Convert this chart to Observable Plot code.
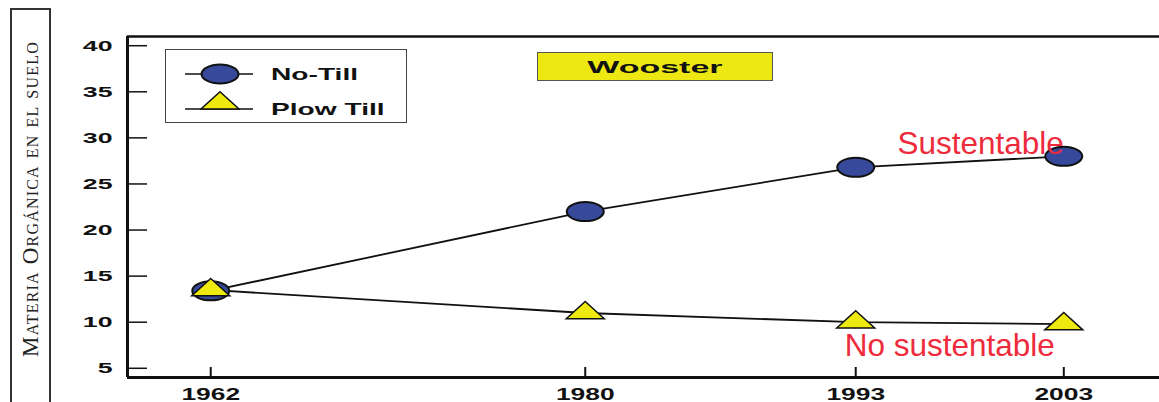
<!DOCTYPE html>
<html><head><meta charset="utf-8">
<script src="https://cdn.jsdelivr.net/npm/d3@7"></script>
<script src="https://cdn.jsdelivr.net/npm/@observablehq/plot@0.6"></script>
<style>
html,body{margin:0;padding:0;background:#fff;}
#wrap{position:relative;width:1159px;height:402px;overflow:hidden;font-family:"Liberation Sans",Arial,sans-serif;color:#111;}
#chart{position:absolute;left:0;top:0;}
#ylab{position:absolute;left:10px;top:8px;width:37px;height:420px;border:2px solid #333;}
#ylab span{position:absolute;left:50%;top:189px;transform:translate(-50%,-50%) rotate(-90deg);white-space:nowrap;font-family:"Liberation Serif","Times New Roman",serif;font-variant:small-caps;font-size:23px;letter-spacing:1.2px;color:#222;}
#legend{position:absolute;left:165px;top:49px;width:242px;height:74px;box-sizing:border-box;border:1px solid #444;background:#fff;}
#legend svg{position:absolute;left:-1px;top:-1px;}
#title{position:absolute;left:537px;top:52px;width:236px;height:29px;box-sizing:border-box;border:1.5px solid #555;background:#EDE812;text-align:center;}
#title span{display:inline-block;font-weight:bold;font-size:17px;line-height:29px;transform:scaleX(2);transform-origin:center;color:#111;}
</style></head>
<body>
<div id="wrap">
  <div id="chart"></div>
  <div id="ylab"><span></span></div>
  <div id="legend"></div>
  <div id="title"><span></span></div>
</div>
<script>
// ---- data ----
const years = [1962, 1980, 1993, 2003];
const noTill = [13.4, 22.0, 26.8, 28.0];
const plowTill = [13.5, 11.0, 10.0, 9.8];
const yTicks = [5, 10, 15, 20, 25, 30, 35, 40];
const seriesNames = ["No-Till", "Plow Till"];
const annotations = ["Sustentable", "No sustentable"];
const titleText = "Wooster";
const yLabel = "Materia Orgánica en el suelo";

const blue = "#37499B", yellow = "#EEEA10", red = "#EE2B3B";

const nt = years.map((x, i) => ({year: x, value: noTill[i], series: seriesNames[0]}));
const pt = years.map((x, i) => ({year: x, value: plowTill[i], series: seriesNames[1]}));

const ellipse = {draw(ctx, size) {
  const r = Math.sqrt(size / Math.PI), rx = 1.85 * r, ry = 0.95 * r, k = 0.5523;
  ctx.moveTo(rx, 0);
  ctx.bezierCurveTo(rx, k * ry, k * rx, ry, 0, ry);
  ctx.bezierCurveTo(-k * rx, ry, -rx, k * ry, -rx, 0);
  ctx.bezierCurveTo(-rx, -k * ry, -k * rx, -ry, 0, -ry);
  ctx.bezierCurveTo(k * rx, -ry, rx, -k * ry, rx, 0);
  ctx.closePath();
}};
const tri = {draw(ctx, size) {
  const r = Math.sqrt(size / Math.PI);
  ctx.moveTo(0, -1.15 * r);
  ctx.lineTo(1.9 * r, 0.58 * r);
  ctx.lineTo(-1.9 * r, 0.58 * r);
  ctx.closePath();
}};

const plot = Plot.plot({
  width: 1159, height: 402,
  marginLeft: 127, marginRight: 0, marginTop: 36, marginBottom: 25,
  style: {fontFamily: "Liberation Sans, Arial, sans-serif", background: "transparent", color: "#111", overflow: "visible"},
  x: {domain: [1958, 2007.6]},
  y: {domain: [4, 41]},
  marks: [
    Plot.ruleY([41], {stroke: "#111", strokeWidth: 2.5}),
    Plot.axisY({ticks: yTicks, tickSize: -20, tickPadding: 35, label: null, strokeWidth: 1.5, fontSize: 15, fontWeight: "bold"}),
    Plot.axisX({ticks: years, tickSize: -10, tickPadding: 21, tickFormat: d => String(d), label: null, strokeWidth: 2, fontSize: 16, fontWeight: "bold"}),
    Plot.ruleX([1958], {stroke: "#111", strokeWidth: 3}),
    Plot.ruleY([4], {stroke: "#111", strokeWidth: 3}),
    Plot.line(nt, {x: "year", y: "value", stroke: "#111", strokeWidth: 1.8}),
    Plot.line(pt, {x: "year", y: "value", stroke: "#111", strokeWidth: 1.8}),
    Plot.dot(nt, {x: "year", y: "value", symbol: ellipse, r: 10, fill: blue, stroke: "#111", strokeWidth: 2}),
    Plot.dot(pt, {x: "year", y: "value", symbol: tri, r: 10, fill: yellow, stroke: "#111", strokeWidth: 1.5}),
    Plot.text([nt[nt.length - 1]], {x: "year", y: "value", text: () => annotations[0], textAnchor: "end", lineAnchor: "middle", dy: -12.1, fontSize: 31.5, fill: red}),
    Plot.text([pt[pt.length - 1]], {x: "year", y: "value", text: () => annotations[1], textAnchor: "end", lineAnchor: "middle", dx: -9, dy: 21.8, fontSize: 31.5, fill: red})
  ]
});

function stretch(sel, s) {
  d3.select(plot).selectAll(sel).each(function() {
    const t = this.getAttribute("transform");
    if (t) this.setAttribute("transform", t + ` scale(${s},1)`);
    else {
      const x = +this.getAttribute("x") || 0;
      this.removeAttribute("x");
      this.setAttribute("transform", `translate(${x},0) scale(${s},1)`);
    }
  });
}
stretch('g[aria-label="y-axis tick label"] text', 1.78);
stretch('g[aria-label="x-axis tick label"] text', 1.65);
d3.select(plot).selectAll('g[aria-label="y-axis tick label"], g[aria-label="x-axis tick label"]').attr("font-weight", "bold");

document.getElementById("chart").appendChild(plot);
document.querySelector("#ylab span").textContent = yLabel;
document.querySelector("#title span").textContent = titleText;

// legend swatches
const lg = d3.select("#legend").append("svg").attr("width", 242).attr("height", 74);
const rows = [
  {name: seriesNames[0], y: 25, sym: ellipse, fill: blue, sw: 2},
  {name: seriesNames[1], y: 60, sym: tri, fill: yellow, sw: 1.5}
];
rows.forEach((r, i) => {
  lg.append("line").attr("x1", 20).attr("x2", 88).attr("y1", r.y).attr("y2", r.y).attr("stroke", "#111").attr("stroke-width", 1.5);
  const p = d3.path();
  r.sym.draw(p, 10 * 10 * Math.PI);
  const cy = i === 0 ? r.y : r.y - 5.8;
  lg.append("path").attr("d", p.toString()).attr("transform", `translate(55,${cy})`).attr("fill", r.fill).attr("stroke", "#111").attr("stroke-width", r.sw);
  lg.append("text").attr("transform", `translate(106,${r.y}) scale(1.76,1)`).attr("dy", "0.35em")
    .attr("font-family", "Liberation Sans, Arial, sans-serif").attr("font-weight", "bold").attr("font-size", 16).attr("fill", "#111").text(r.name);
});
</script>
</body></html>
